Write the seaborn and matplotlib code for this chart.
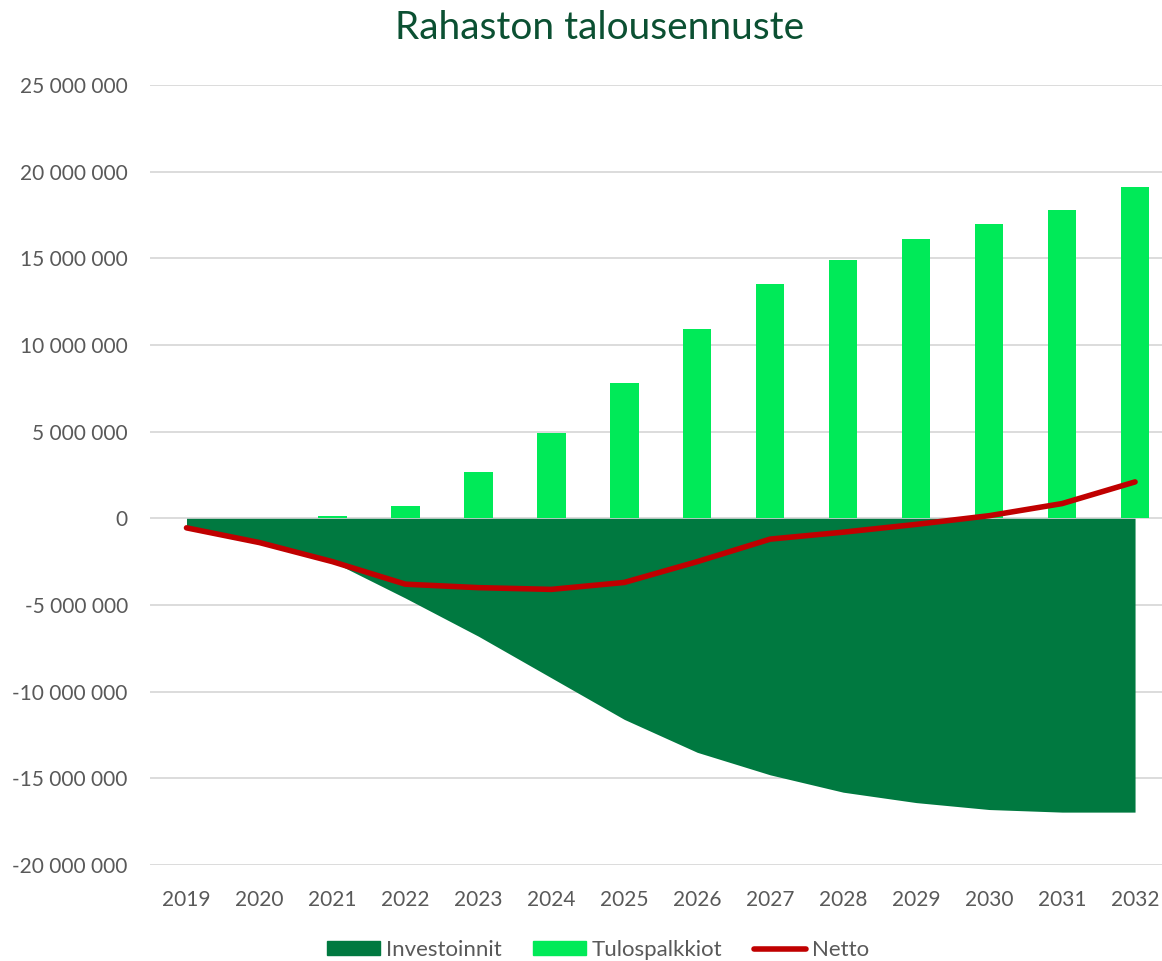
import matplotlib.pyplot as plt
import seaborn as sns
import pandas as pd
from matplotlib.ticker import FuncFormatter
from matplotlib.patches import Patch
from matplotlib.lines import Line2D

# Data
years = [str(y) for y in range(2019, 2033)]
investoinnit = [-0.55e6, -1.3e6, -2.5e6, -4.6e6, -6.8e6, -9.2e6, -11.6e6,
                -13.5e6, -14.8e6, -15.8e6, -16.4e6, -16.8e6, -16.95e6, -16.95e6]
tulospalkkiot = [0, 0, 0.15e6, 0.7e6, 2.7e6, 4.9e6, 7.8e6,
                 10.9e6, 13.5e6, 14.9e6, 16.1e6, 17.0e6, 17.8e6, 19.1e6]
netto = [-0.55e6, -1.4e6, -2.5e6, -3.8e6, -4.0e6, -4.1e6, -3.7e6,
         -2.5e6, -1.2e6, -0.8e6, -0.35e6, 0.15e6, 0.85e6, 2.1e6]

df = pd.DataFrame({"vuosi": years, "Investoinnit": investoinnit,
                   "Tulospalkkiot": tulospalkkiot, "Netto": netto})

dark_green = "#007940"
light_green = "#00EA58"
red = "#C00000"
grey = "#595959"

sns.set_theme(style="white")
plt.rcParams["font.family"] = ["Lato", "DejaVu Sans"]

fig = plt.figure(figsize=(11.62, 9.61), dpi=100)
ax = fig.add_axes([0.1291, 0.0999, 0.8791, 0.8117])

pos = list(range(len(years)))
ax.fill_between(pos, df["Investoinnit"], 0, color=dark_green, lw=0, zorder=2)
sns.barplot(data=df, x="vuosi", y="Tulospalkkiot", color=light_green,
            width=0.39, saturation=1, ax=ax, zorder=2, edgecolor="none", linewidth=0)
sns.lineplot(x=pos, y=df["Netto"], color=red, lw=4, ax=ax, zorder=3,
             solid_capstyle="round", solid_joinstyle="round")

ax.set_xlim(-0.5, len(years) - 0.5)
ax.set_ylim(-20e6, 25e6)
ax.set_yticks(range(-20_000_000, 25_000_001, 5_000_000))
ax.yaxis.set_major_formatter(FuncFormatter(lambda v, p: f"{int(v):,}".replace(",", " ")))
ax.grid(axis="y", color="#D9D9D9", lw=1.3, zorder=0)
ax.set_axisbelow(True)
for s in ax.spines.values():
    s.set_visible(False)
ax.set_xlabel("")
ax.set_ylabel("")
ax.tick_params(axis="both", length=0, colors=grey)
ax.tick_params(axis="x", pad=18, labelsize=15)
ax.tick_params(axis="y", pad=16, labelsize=15)

fig.text(0.516, 0.971, "Rahaston talousennuste", ha="center", va="center",
         fontsize=28, color="#0B5032")

handles = [Patch(color=dark_green, label="Investoinnit"),
           Patch(color=light_green, label="Tulospalkkiot"),
           Line2D([0], [0], color=red, lw=4, solid_capstyle="round", label="Netto")]
leg = fig.legend(handles=handles, loc="lower center", bbox_to_anchor=(0.515, -0.02),
                 ncol=3, frameon=False, fontsize=16, handlelength=2.38, handleheight=0.59,
                 columnspacing=1.4, handletextpad=0.27)
for t in leg.get_texts():
    t.set_color(grey)

fig.savefig("out.png", dpi=100)
